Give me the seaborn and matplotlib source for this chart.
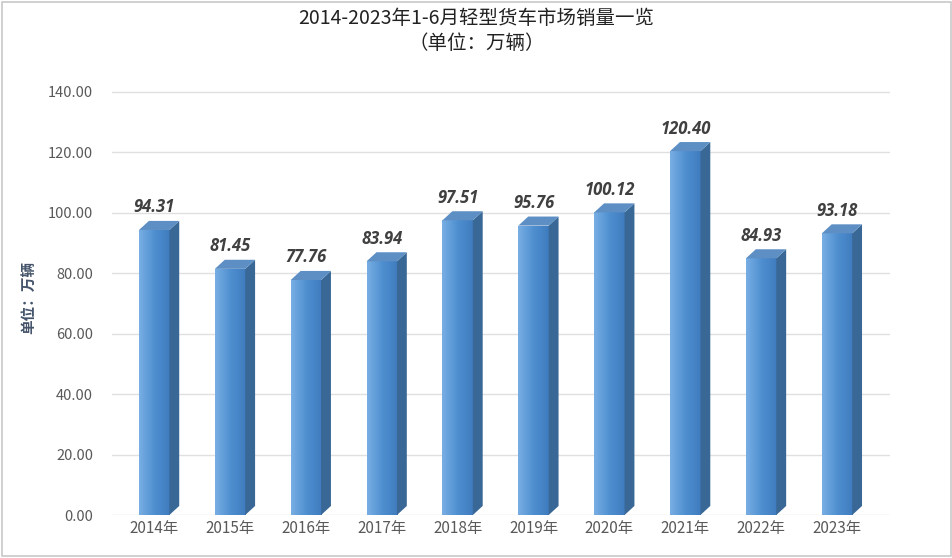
import matplotlib
matplotlib.use("Agg")
import matplotlib.pyplot as plt
import seaborn as sns
import numpy as np
import pandas as pd
from matplotlib.patches import Polygon, Rectangle
from matplotlib.colors import LinearSegmentedColormap

years = ["2014年","2015年","2016年","2017年","2018年","2019年","2020年","2021年","2022年","2023年"]
sales = [94.31, 81.45, 77.76, 83.94, 97.51, 95.76, 100.12, 120.40, 84.93, 93.18]
yticks = [0, 20, 40, 60, 80, 100, 120, 140]

plt.rcParams["font.family"] = ["Noto Sans CJK SC", "DejaVu Sans"]
fig = plt.figure(figsize=(9.53, 5.58), dpi=100)
fig.patches.append(Rectangle((0.002, 0.004), 0.996, 0.992, transform=fig.transFigure,
                             fill=False, edgecolor="#c8c8c8", lw=1.2))
ax = fig.add_axes([0.118, 0.077, 0.816, 0.78])
df = pd.DataFrame({"year": years, "sales": sales})
sns.barplot(data=df, x="year", y="sales", color="#5b9bd5", width=0.4, ax=ax, zorder=3)

dx, dy = 0.13, 3.0
grad = np.linspace(0, 1, 100).reshape(1, -1)
cmap = LinearSegmentedColormap.from_list("b", ["#78aee3", "#4f8fd0", "#3f7cbf"])
for p, v in zip(ax.patches, sales):
    x0 = p.get_x(); w = p.get_width()
    im = ax.imshow(grad, extent=(x0, x0 + w, 0, v), aspect="auto", cmap=cmap, zorder=3)
    im.set_clip_path(p)
    ax.add_patch(Polygon([(x0 + w, 0), (x0 + w + dx, dy), (x0 + w + dx, v + dy), (x0 + w, v)],
                         closed=True, facecolor="#3a6896", edgecolor="none", zorder=3))
    ax.add_patch(Polygon([(x0, v), (x0 + dx, v + dy), (x0 + w + dx, v + dy), (x0 + w, v)],
                         closed=True, facecolor="#5d8fc4", edgecolor="none", zorder=3))
    ax.text(x0 + w / 2, v + dy + 1.5, f"{v:.2f}", ha="center", va="bottom",
            fontsize=12, fontweight="bold", style="italic", color="#404040", zorder=4,
            fontfamily="Open Sans")

ax.set_xlim(-0.55, 9.7)
ax.set_ylim(0, 144)
ax.set_yticks(yticks)
ax.set_yticklabels([f"{t:.2f}" for t in yticks], color="#595959", fontsize=10.5)
ax.tick_params(axis="x", colors="#595959", labelsize=11, length=0)
ax.tick_params(axis="y", length=0, pad=14)
ax.grid(axis="y", color="#e0e0e0", lw=1, zorder=0)
for s in ax.spines.values():
    s.set_visible(False)
ax.set_xlabel("")
ax.set_ylabel("单位：万辆", fontsize=10.5, fontweight="bold", color="#44546a", labelpad=8)
fig.text(0.5, 0.985, "2014-2023年1-6月轻型货车市场销量一览", ha="center", va="top",
         fontsize=14, color="#222222")
fig.text(0.5, 0.94, "（单位：万辆）", ha="center", va="top", fontsize=14, color="#222222")
fig.savefig("out.png", dpi=100)
